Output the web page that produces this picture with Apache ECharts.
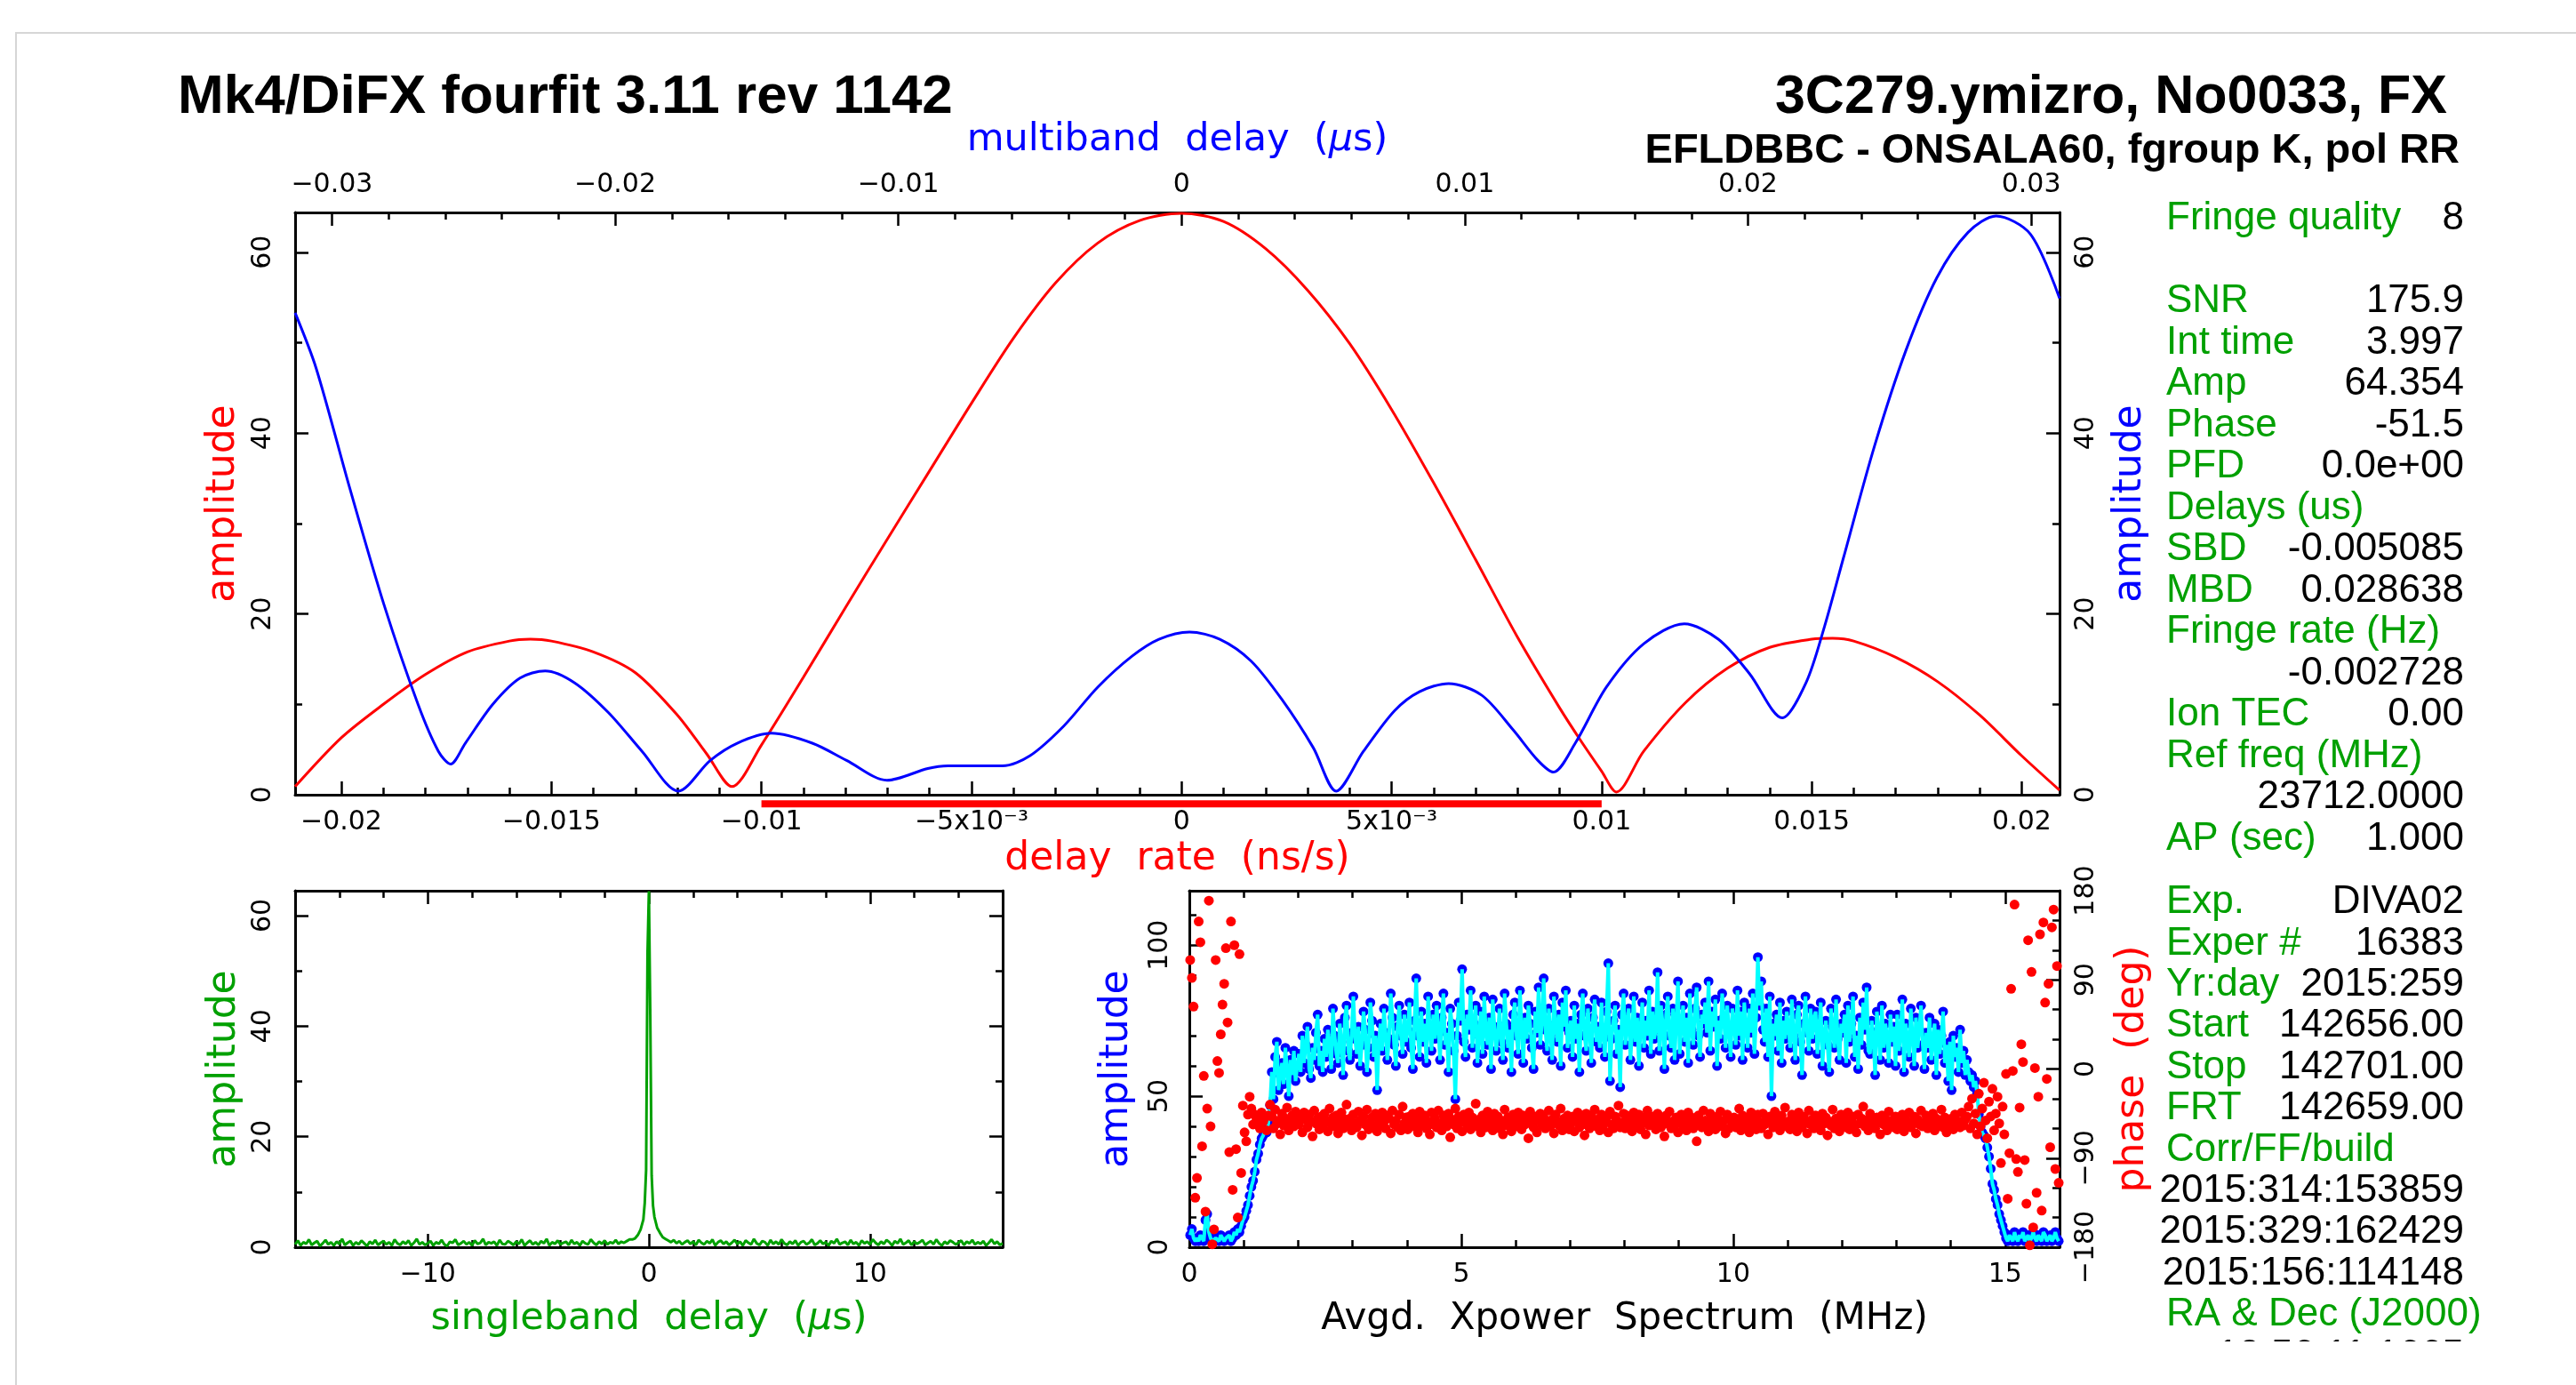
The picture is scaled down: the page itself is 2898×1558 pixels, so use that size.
<!DOCTYPE html>
<html>
<head>
<meta charset="utf-8">
<script src="https://cdn.jsdelivr.net/npm/echarts@6.0.0/dist/echarts.min.js"></script>
<style>
  html, body { margin: 0; background: #fff; }
  #app { width: 2898px; height: 1558px; }
</style>
</head>
<body>
<div id="app"></div>
<script>
// ---- top panel: delay-rate (red, bottom axis) and multiband delay (blue, top axis)
const rateX = [-0.0211, -0.020, -0.019, -0.018, -0.017, -0.016, -0.0155, -0.015, -0.014, -0.013,
  -0.012, -0.0113, -0.0107, -0.010, -0.009, -0.008, -0.007, -0.006, -0.005, -0.004,
  -0.003, -0.002, -0.001, 0, 0.001, 0.002, 0.003, 0.004, 0.005, 0.006,
  0.007, 0.008, 0.009, 0.0095, 0.010, 0.01035, 0.011, 0.012, 0.013, 0.014,
  0.015, 0.0155, 0.016, 0.017, 0.018, 0.019, 0.020, 0.0209];
const rateAmp = [0.9, 6.3, 10.0, 13.3, 15.8, 17.0, 17.2, 17.0, 15.8, 13.5,
  8.8, 4.5, 0.9, 5.5, 13.0, 20.7, 28.3, 35.8, 43.3, 50.5,
  56.6, 61.0, 63.5, 64.3, 63.4, 60.4, 55.8, 49.9, 42.6, 34.5,
  26.0, 17.4, 9.6, 6.0, 2.6, 0.3, 4.8, 10.2, 14.0, 16.3,
  17.2, 17.3, 17.0, 15.2, 12.5, 8.8, 4.3, 0.5];
const rateWindow = [-0.01, 0.01];

const mbdX = [-0.0313, -0.03056, -0.02937, -0.02816, -0.02696, -0.02624, -0.02581, -0.02529, -0.02432, -0.02336,
  -0.02247, -0.02144, -0.02024, -0.01905, -0.01777, -0.01664, -0.01569, -0.01448, -0.01304, -0.01183,
  -0.0104, -0.00896, -0.00825, -0.00753, -0.00632, -0.00536, -0.00416, -0.00296, -0.00176, -0.0008,
  0.00028, 0.00135, 0.00245, 0.00355, 0.00465, 0.00546, 0.00642, 0.00752, 0.0084, 0.00943,
  0.0106, 0.0117, 0.01258, 0.01313, 0.0139, 0.015, 0.01632, 0.01775, 0.01895, 0.02005,
  0.02121, 0.02205, 0.0227, 0.02337, 0.02447, 0.02557, 0.02667, 0.02777, 0.02876, 0.02997, 0.0310];
const mbdAmp = [53.3, 47.2, 33.9, 21.0, 10.0, 4.8, 3.4, 5.7, 10.0, 12.9,
  13.7, 12.4, 9.1, 4.8, 0.4, 3.8, 5.7, 6.8, 5.7, 3.8,
  1.6, 2.9, 3.2, 3.2, 3.2, 4.3, 7.6, 11.9, 15.3, 17.2,
  18.0, 17.2, 14.8, 10.5, 5.2, 0.4, 4.8, 9.3, 11.4, 12.3,
  11.0, 7.2, 3.8, 2.5, 5.7, 11.9, 16.7, 18.9, 17.2, 13.4,
  8.5, 12.4, 18.6, 26.2, 38.6, 49.1, 57.2, 62.2, 64.0, 62.0, 54.9];

// ---- singleband delay (green), 0.125 us channels from -16 us, plus fine samples at the peak
const SBD_X0 = -16, SBD_DX = 0.125;
const sbdAmp = [
  0.5, 1.2, 0.3, 0.9, 0.6, 1.4, 0.4, 0.8, 1.1, 0.2, 0.7, 1.3, 0.5, 0.9, 0.3, 1.0,
  0.6, 1.5, 0.4, 0.8, 1.1, 0.3, 0.9, 0.5, 1.2, 0.7, 0.2, 1.0, 0.6, 1.3, 0.4, 0.8,
  1.1, 0.5, 0.9, 0.3, 1.4, 0.7, 0.4, 1.0, 0.6, 1.2, 0.3, 0.8, 1.5, 0.5, 0.9, 0.4,
  0.7, 1.1, 0.3, 0.9, 0.6, 1.3, 0.5, 0.2, 1.0, 0.8, 1.4, 0.4, 0.7, 1.1, 0.5, 0.9,
  0.3, 1.2, 0.6, 0.8, 1.5, 0.4, 0.9, 0.7, 1.0, 0.3, 1.3, 0.6, 0.5, 1.1, 0.8, 0.4,
  1.0, 0.6, 1.4, 0.3, 0.8, 1.2, 0.5, 0.9, 0.4, 1.1, 0.7, 1.5, 0.3, 0.9, 0.6, 1.2,
  0.5, 0.8, 1.0, 0.4, 1.3, 0.6, 0.9, 0.3, 1.1, 0.7, 0.5, 1.4, 0.8, 0.4, 1.0, 0.6,
  1.2, 0.5, 0.9, 0.7, 1.3, 0.6, 1.0, 0.8, 1.1, 1.4, 1.4, 1.6, 2.2, 3.2, 5.0, 14.0,
  64.4, 13.0, 5.5, 3.5, 2.6, 1.8, 1.5, 1.2, 0.9, 1.3, 0.7, 1.1, 0.5, 0.9, 1.2, 0.6,
  1.0, 0.4, 1.3, 0.8, 0.5, 1.1, 0.7, 1.4, 0.3, 0.9, 1.2, 0.6, 1.0, 0.4, 0.8, 1.3,
  0.6, 1.0, 0.3, 1.2, 0.8, 0.5, 1.5, 0.7, 0.4, 1.1, 0.9, 0.3, 1.3, 0.6, 1.0, 0.5,
  1.4, 0.7, 0.4, 1.0, 0.6, 1.2, 0.3, 0.9, 1.1, 0.5, 0.8, 1.4, 0.4, 0.7, 1.2, 0.6,
  0.9, 0.3, 1.1, 0.7, 1.5, 0.5, 0.8, 1.0, 0.4, 1.3, 0.6, 0.9, 0.3, 1.2, 0.7, 1.0,
  0.5, 1.4, 0.8, 0.4, 1.0, 0.6, 1.3, 0.9, 0.3, 1.1, 0.7, 1.5, 0.5, 0.8, 1.2, 0.4,
  1.0, 0.6, 0.9, 1.3, 0.4, 0.8, 1.1, 0.5, 1.4, 0.7, 0.3, 1.0, 0.6, 1.2, 0.9, 0.5,
  0.8, 1.2, 0.4, 1.0, 0.7, 1.3, 0.5, 0.9, 0.6, 1.1, 0.3, 0.8, 1.4, 0.6, 1.0, 0.4,
  0.7];
const sbdFineX = [-0.1875, -0.0625, 0.0625, 0.1875];
const sbdFineY = [8.0, 53.0, 42.0, 7.5];

// ---- cross-power spectrum, 512 channels of 0.03125 MHz
const SPEC_DF = 0.03125;
const specAmp = [
  4, 6, 3, 2, 3, 2, 4, 3, 2, 9, 11, 5, 3, 2, 2, 3,
  3, 2, 4, 3, 2, 3, 3, 4, 2, 3, 5, 4, 6, 5, 7, 9,
  10, 12, 14, 17, 20, 22, 25, 29, 31, 34, 36, 37, 39, 38, 41, 47,
  58, 49, 63, 68, 52, 57, 61, 54, 66, 59, 50, 62, 57, 65, 55, 60,
  64, 58, 70, 61, 67, 73, 59, 56, 66, 62, 71, 77, 60, 65, 58, 69,
  63, 72, 66, 59, 79, 70, 64, 61, 74, 68, 57, 76, 80, 65, 62, 71,
  83, 69, 64, 73, 60, 67, 78, 72, 58, 66, 81, 75, 63, 70, 52, 68,
  74, 65, 79, 71, 62, 69, 84, 76, 67, 60, 73, 80, 70, 64, 77, 68,
  72, 81, 66, 59, 75, 89, 70, 63, 78, 68, 74, 61, 83, 72, 65, 77,
  69, 80, 73, 62, 76, 84, 67, 71, 58, 79, 74, 65, 49, 70, 81, 75,
  92, 68, 63, 77, 72, 85, 66, 74, 80, 61, 70, 78, 64, 83, 71, 67,
  76, 59, 82, 73, 65, 70, 79, 68, 62, 84, 74, 66, 72, 58, 77, 81,
  70, 64, 85, 73, 61, 76, 69, 80, 74, 66, 59, 78, 71, 86, 67, 75,
  89, 72, 65, 79, 70, 62, 83, 74, 68, 77, 60, 81, 73, 85, 66, 71,
  75, 63, 80, 69, 74, 58, 77, 84, 70, 65, 79, 72, 61, 76, 82, 68,
  73, 66, 81, 70, 63, 78, 94, 55, 69, 75, 80, 64, 72, 53, 77, 84,
  67, 74, 79, 62, 71, 83, 68, 76, 60, 73, 81, 66, 75, 70, 85, 64,
  78, 69, 72, 91, 65, 80, 74, 59, 77, 83, 70, 66, 79, 62, 75, 88,
  64, 73, 80, 68, 76, 61, 84, 72, 67, 79, 86, 70, 63, 77, 74, 81,
  71, 88, 65, 78, 73, 82, 60, 75, 69, 84, 76, 66, 80, 72, 63, 79,
  74, 67, 85, 70, 78, 62, 81, 73, 66, 79, 71, 84, 64, 76, 96, 80,
  88, 72, 68, 79, 63, 83, 50, 74, 70, 77, 65, 81, 61, 75, 69, 78,
  73, 66, 82, 70, 62, 77, 80, 68, 57, 74, 83, 71, 65, 79, 69, 76,
  78, 64, 72, 81, 60, 70, 75, 67, 58, 79, 73, 66, 82, 69, 62, 74,
  71, 77, 61, 80, 68, 74, 83, 63, 70, 59, 76, 67, 81, 72, 86, 65,
  64, 75, 69, 57, 78, 72, 62, 80, 66, 74, 70, 61, 77, 68, 73, 60,
  77, 65, 71, 82, 58, 74, 68, 63, 79, 70, 60, 76, 66, 72, 80, 67,
  59, 71, 66, 76, 62, 69, 74, 57, 72, 64, 70, 78, 61, 67, 55, 68,
  52, 70, 63, 66, 58, 72, 61, 65, 57, 62, 58, 55, 57, 53, 55, 51,
  44, 40, 38, 37, 36, 33, 30, 26, 21, 19, 16, 14, 11, 9, 7, 5,
  3, 2, 4, 3, 2, 5, 3, 2, 4, 3, 5, 2, 3, 4, 2, 3,
  5, 3, 2, 4, 3, 2, 5, 4, 2, 3, 4, 2, 3, 5, 3, 2];
const specPhase = [
  110, 92, 63, -130, -110, 149, 128, -78, -7, -144, -40, 170, -58, -177, -162, 110,
  8, -4, 35, 65, 86, 122, 47, -84, 149, -122, 125, -81, -150, 116, -105, -37,
  -64, -73, -46, -28, -40, -56, -46, -50, -55, -60, -44, -53, -49, -62, -47, -36,
  -48, -60, -41, -55, -52, -66, -45, -57, -50, -39, -62, -54, -47, -58, -43, -53,
  -56, -49, -64, -44, -51, -59, -46, -53, -68, -42, -55, -50, -61, -48, -57, -45,
  -52, -63, -40, -56, -49, -58, -47, -65, -53, -44, -60, -51, -36, -57, -50, -62,
  -46, -55, -59, -43, -52, -67, -48, -56, -41, -61, -54, -49, -58, -45, -63, -51,
  -57, -44, -53, -60, -47, -50, -65, -42, -56, -52, -59, -46, -62, -38, -55, -49,
  -61, -48, -54, -45, -58, -51, -64, -43, -57, -50, -47, -60, -53, -66, -44, -56,
  -50, -59, -42, -55, -62, -47, -53, -58, -45, -69, -51, -56, -40, -60, -48, -54,
  -63, -46, -52, -57, -44, -61, -49, -55, -35, -58, -51, -64, -47, -53, -59, -43,
  -56, -50, -62, -45, -54, -48, -60, -52, -66, -41, -57, -49, -55, -63, -46, -51,
  -58, -44, -53, -61, -47, -56, -50, -70, -43, -55, -59, -48, -64, -52, -45, -57,
  -49, -60, -54, -42, -58, -51, -65, -46, -53, -57, -40, -62, -50, -56, -47, -61,
  -55, -48, -63, -52, -44, -59, -50, -56, -67, -45, -53, -60, -47, -54, -41, -58,
  -51, -62, -46, -57, -53, -49, -64, -43, -56, -60, -48, -52, -37, -59, -54, -45,
  -60, -47, -55, -50, -63, -44, -58, -52, -46, -61, -54, -49, -66, -42, -57, -53,
  -48, -56, -61, -45, -52, -59, -50, -68, -47, -55, -43, -60, -53, -57, -49, -64,
  -54, -46, -58, -51, -62, -44, -56, -49, -60, -53, -73, -47, -55, -59, -42, -52,
  -57, -63, -45, -54, -50, -61, -48, -56, -43, -58, -52, -65, -46, -60, -51, -55,
  -49, -59, -53, -40, -62, -47, -55, -57, -51, -64, -44, -58, -50, -61, -46, -54,
  -60, -45, -56, -52, -66, -48, -53, -59, -43, -57, -50, -62, -47, -55, -39, -58,
  -53, -61, -46, -57, -50, -63, -44, -55, -59, -48, -54, -65, -42, -56, -51, -60,
  -47, -58, -52, -62, -45, -55, -49, -67, -53, -57, -41, -60, -50, -54, -63, -46,
  -56, -51, -59, -44, -61, -53, -48, -57, -64, -46, -55, -50, -38, -58, -52, -62,
  -45, -57, -53, -60, -49, -54, -66, -47, -56, -51, -62, -43, -58, -52, -59, -48,
  -61, -50, -55, -46, -63, -52, -57, -44, -59, -53, -48, -65, -51, -56, -42, -58,
  -54, -47, -60, -52, -56, -45, -62, -50, -58, -55, -41, -59, -49, -64, -53, -57,
  -50, -61, -46, -56, -53, -59, -44, -57, -51, -48, -38, -60, -30, -55, -45, -66,
  -25, -58, -40, -14, -52, -70, -33, -48, -20, -62, -45, -28, -55, -95, -38, -66,
  -5, -131, -85, 81, -2, 166, -91, -104, -39, 25, 7, -92, -136, 130, -178, 98,
  -160, 1, -125, -28, 136, -143, 148, 67, -10, 86, -79, 143, 161, -101, 104, -115];

// ---- tick labels
const rateTicks = [-0.02, -0.015, -0.01, -0.005, 0, 0.005, 0.01, 0.015, 0.02];
const rateTickLabels = ['−0.02', '−0.015', '−0.01', '−5x10⁻³', '0', '5x10⁻³', '0.01', '0.015', '0.02'];
const mbdTicks = [-0.03, -0.02, -0.01, 0, 0.01, 0.02, 0.03];
const mbdTickLabels = ['−0.03', '−0.02', '−0.01', '0', '0.01', '0.02', '0.03'];
const ampTicks = [0, 20, 40, 60];
const ampTickLabels = ['0', '20', '40', '60'];
const sbdTicks = [-10, 0, 10];
const sbdTickLabels = ['−10', '0', '10'];
const specTicks = [0, 5, 10, 15];
const specTickLabels = ['0', '5', '10', '15'];
const specAmpTicks = [0, 50, 100];
const specAmpTickLabels = ['0', '50', '100'];
const phaseTicks = [-180, -90, 0, 90, 180];
const phaseTickLabels = ['−180', '−90', '0', '90', '180'];

// ---- text panel
const infoLabels = ['Fringe quality', '', 'SNR', 'Int time', 'Amp', 'Phase', 'PFD', 'Delays (us)', 'SBD', 'MBD',
  'Fringe rate (Hz)', '', 'Ion TEC', 'Ref freq (MHz)', '', 'AP (sec)'];
const infoValues = ['8', '', '175.9', '3.997', '64.354', '-51.5', '0.0e+00', '', '-0.005085', '0.028638',
  '', '-0.002728', '0.00', '', '23712.0000', '1.000'];
const expLabels = ['Exp.', 'Exper #', 'Yr:day', 'Start', 'Stop', 'FRT', 'Corr/FF/build', '', '', '', 'RA & Dec (J2000)', ''];
const expValues = ['DIVA02', '16383', '2015:259', '142656.00', '142701.00', '142659.00', '',
  '2015:314:153859', '2015:329:162429', '2015:156:114148', '', '12:56:11.1665'];

const RED = '#ff0000', BLUE = '#0000ff', GREEN = '#00a000', CYAN = '#00ffff', BLACK = '#000000';
const TICK_FONT = 'DejaVu Sans';
const TEXT_FONT = '"Liberation Sans", Arial, sans-serif';

function range(a, b, step) {
  const out = [];
  for (let v = a; v <= b + step * 1e-6; v += step) out.push(+v.toFixed(6));
  return out;
}
function nearest(arr, v) {
  let k = 0;
  arr.forEach((a, i) => { if (Math.abs(a - v) < Math.abs(arr[k] - v)) k = i; });
  return k;
}

// one axis = one set of inside ticks; the long-tick axis also draws the frame line
function axis(grid, pos, min, max, ticks, len, extra) {
  return Object.assign({
    type: 'value', gridIndex: grid, position: pos, min: min, max: max, offset: 0,
    axisLine: { show: len > 10, onZero: false, lineStyle: { color: BLACK, width: 3 } },
    axisTick: { show: true, inside: true, length: len, customValues: ticks,
      lineStyle: { color: BLACK, width: 2.5 } },
    axisLabel: { show: false },
    splitLine: { show: false },
    axisPointer: { show: false }
  }, extra || {});
}
function labels(values, texts, margin, rotate) {
  return { axisLabel: { show: true, customValues: values, margin: margin, rotate: rotate || 0,
    color: BLACK, fontFamily: TICK_FONT, fontSize: 30,
    formatter: (v) => texts[nearest(values, v)] } };
}
function named(text, color, gap, size) {
  const fs = size || 43;
  return { name: text, nameLocation: 'middle', nameGap: gap,
    nameTextStyle: { color: color, fontFamily: TICK_FONT, fontSize: fs,
      rich: { i: { fontStyle: 'italic', color: color, fontFamily: TICK_FONT, fontSize: fs } } } };
}

const RATE_MIN = -0.0211, RATE_MAX = 0.0209;
const MBD_MIN = -0.0313, MBD_MAX = 0.0310;
const AMP_MAX = 64.4;

const xAxes = [
  // grid 0
  axis(0, 'bottom', RATE_MIN, RATE_MAX, rateTicks, 15,
    Object.assign(labels(rateTicks, rateTickLabels, 16), named('delay  rate  (ns/s)', RED, 51, 44))),
  axis(0, 'bottom', RATE_MIN, RATE_MAX, range(-0.020, 0.020, 0.001), 8),
  axis(0, 'top', MBD_MIN, MBD_MAX, mbdTicks, 15,
    Object.assign(labels(mbdTicks, mbdTickLabels, 16), named('multiband  delay  ({i|µ}s)', BLUE, 60))),
  axis(0, 'top', MBD_MIN, MBD_MAX, range(-0.030, 0.030, 0.002), 8),
  // grid 1
  axis(1, 'bottom', -16, 16, sbdTicks, 15,
    Object.assign(labels(sbdTicks, sbdTickLabels, 16), named('singleband  delay  ({i|µ}s)', GREEN, 59))),
  axis(1, 'bottom', -16, 16, range(-14, 14, 2), 8),
  axis(1, 'top', -16, 16, sbdTicks, 15),
  axis(1, 'top', -16, 16, range(-14, 14, 2), 8),
  // grid 2
  axis(2, 'bottom', 0, 16, specTicks, 15,
    Object.assign(labels(specTicks, specTickLabels, 16), named('Avgd.  Xpower  Spectrum  (MHz)', BLACK, 60, 42))),
  axis(2, 'bottom', 0, 16, range(1, 15, 1), 8),
  axis(2, 'top', 0, 16, specTicks, 15),
  axis(2, 'top', 0, 16, range(1, 15, 1), 8)
];

const yAxes = [
  // grid 0
  axis(0, 'left', 0, AMP_MAX, ampTicks, 15,
    Object.assign(labels(ampTicks, ampTickLabels, 21, 90), named('amplitude', RED, 57, 44))),
  axis(0, 'left', 0, AMP_MAX, [10, 30, 50], 8),
  axis(0, 'right', 0, AMP_MAX, ampTicks, 15,
    Object.assign(labels(ampTicks, ampTickLabels, 15, 90), named('amplitude', BLUE, 58, 44))),
  axis(0, 'right', 0, AMP_MAX, [10, 30, 50], 8),
  // grid 1
  axis(1, 'left', 0, 64.5, ampTicks, 15,
    Object.assign(labels(ampTicks, ampTickLabels, 21, 90), named('amplitude', GREEN, 57, 44))),
  axis(1, 'left', 0, 64.5, [10, 30, 50], 8),
  axis(1, 'right', 0, 64.5, ampTicks, 15),
  axis(1, 'right', 0, 64.5, [10, 30, 50], 8),
  // grid 2
  axis(2, 'left', 0, 118, specAmpTicks, 15,
    Object.assign(labels(specAmpTicks, specAmpTickLabels, 18, 90), named('amplitude', BLUE, 59, 44))),
  axis(2, 'left', 0, 118, range(10, 110, 10), 8),
  axis(2, 'right', -180, 180, phaseTicks, 15,
    Object.assign(labels(phaseTicks, phaseTickLabels, 15, 90), named('phase  (deg)', RED, 61, 44))),
  axis(2, 'right', -180, 180, range(-150, 150, 30), 8)
];

const sbdData = sbdAmp.map((v, i) => [SBD_X0 + i * SBD_DX, v])
  .concat(sbdFineX.map((x, i) => [x, sbdFineY[i]]))
  .sort((a, b) => a[0] - b[0]);
const specAmpData = specAmp.map((v, i) => [SPEC_DF * (i + 0.5), v]);
const specPhaseData = specPhase.map((v, i) => [SPEC_DF * (i + 0.5), v]);

function text(str, x, y, align, font, color, z) {
  return { type: 'text', x: x, y: y, silent: true, z: z || 10,
    style: { text: str, fill: color, font: font, align: align, verticalAlign: 'middle',
      textAlign: align, textVerticalAlign: 'middle' } };
}

const PANEL_FONT = '44px ' + TEXT_FONT;
const graphic = [
  { type: 'polyline', silent: true, shape: { points: [[18, 1558], [18, 37], [2898, 37]] },
    style: { stroke: '#d6d6d6', lineWidth: 2, fill: null } },
  text('Mk4/DiFX fourfit 3.11 rev 1142', 200, 110, 'left', 'bold 62px ' + TEXT_FONT, BLACK),
  text('3C279.ymizro, No0033, FX', 2753, 110, 'right', 'bold 61px ' + TEXT_FONT, BLACK),
  text('EFLDBBC - ONSALA60, fgroup K, pol RR', 2767, 170, 'right', 'bold 47px ' + TEXT_FONT, BLACK)
];
infoLabels.forEach((s, k) => {
  const y = 246 + 46.5 * k;
  if (s) graphic.push(text(s, 2437, y, 'left', PANEL_FONT, GREEN));
  if (infoValues[k]) graphic.push(text(infoValues[k], 2772, y, 'right', PANEL_FONT, BLACK));
});
expLabels.forEach((s, k) => {
  const y = 1015 + 46.4 * k;
  if (s) graphic.push(text(s, 2437, y, 'left', PANEL_FONT, GREEN));
  if (expValues[k]) graphic.push(text(expValues[k], 2772, y, 'right', PANEL_FONT, BLACK));
});
// the page is cut off just below the RA & Dec heading
graphic.push({ type: 'rect', silent: true, z: 100, shape: { x: 20, y: 1509, width: 2878, height: 49 },
  style: { fill: '#ffffff' } });

const chart = echarts.init(document.getElementById('app'), null, { renderer: 'canvas' });
chart.setOption({
  animation: false,
  backgroundColor: '#ffffff',
  grid: [
    { left: 332, top: 239, width: 1985, height: 655, outerBoundsMode: 'none' },
    { left: 332, top: 1002, width: 796, height: 401, outerBoundsMode: 'none' },
    { left: 1338, top: 1002, width: 979, height: 401, outerBoundsMode: 'none' }
  ],
  xAxis: xAxes,
  yAxis: yAxes,
  graphic: graphic,
  series: [
    { type: 'line', xAxisIndex: 0, yAxisIndex: 0, data: rateX.map((x, i) => [x, rateAmp[i]]),
      showSymbol: false, smooth: 0.3, lineStyle: { color: RED, width: 3 }, itemStyle: { color: RED }, z: 3 },
    { type: 'line', xAxisIndex: 2, yAxisIndex: 0, data: mbdX.map((x, i) => [x, mbdAmp[i]]),
      showSymbol: false, smooth: 0.3, lineStyle: { color: BLUE, width: 3 }, itemStyle: { color: BLUE }, z: 3 },
    { type: 'line', xAxisIndex: 0, yAxisIndex: 0, data: rateWindow.map((x) => [x, -1.0]),
      showSymbol: false, clip: false, lineStyle: { color: RED, width: 8, cap: 'butt' }, z: 4 },
    { type: 'line', xAxisIndex: 4, yAxisIndex: 4, data: sbdData,
      showSymbol: false, lineStyle: { color: GREEN, width: 3 }, itemStyle: { color: GREEN }, z: 3 },
    { type: 'scatter', xAxisIndex: 8, yAxisIndex: 8, data: specAmpData,
      symbolSize: 11, itemStyle: { color: BLUE, opacity: 1 }, z: 2 },
    { type: 'line', xAxisIndex: 8, yAxisIndex: 8, data: specAmpData,
      showSymbol: false, lineStyle: { color: CYAN, width: 4 }, itemStyle: { color: CYAN }, z: 3 },
    { type: 'scatter', xAxisIndex: 8, yAxisIndex: 10, data: specPhaseData,
      symbolSize: 11, itemStyle: { color: RED, opacity: 1 }, z: 4 }
  ]
});
</script>
</body>
</html>
